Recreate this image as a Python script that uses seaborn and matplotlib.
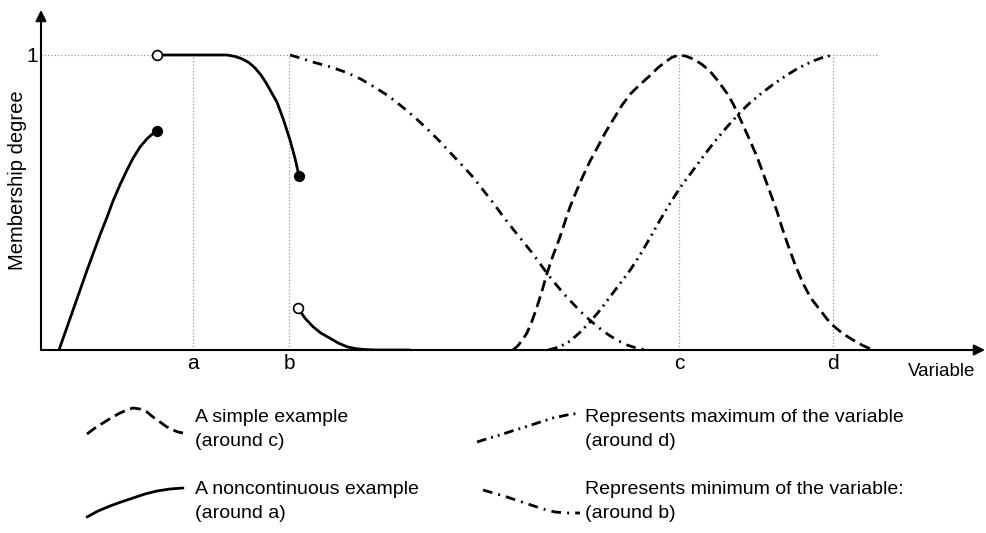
import seaborn as sns
import matplotlib.pyplot as plt

# x is measured along the "Variable" axis (arbitrary units), y = membership degree
tick_pos = [15.2, 24.8, 63.8, 79.2]
tick_labels = ['a', 'b', 'c', 'd']
top_line_end = 83.6

# simple example (around c) - dashed
c_x = [47.2, 47.7, 48.1, 48.6, 49.1, 49.6, 50.1, 50.6, 51.2, 51.9, 52.4, 52.9, 53.5,
       54.2, 54.9, 55.7, 56.4, 57.2, 58.1, 59.0, 59.9, 60.9, 61.7, 62.5, 63.1, 63.8,
       64.5, 65.3, 66.1, 66.9, 67.7, 68.6, 69.2, 69.7, 70.3, 70.9, 71.6, 72.2, 72.9,
       73.6, 74.1, 74.6, 75.4, 76.2, 77.0, 77.9, 78.6, 79.2, 80.2, 81.2, 82.2, 83.2]
c_y = [0.0, 0.015, 0.032, 0.058, 0.098, 0.146, 0.20, 0.26, 0.32, 0.383, 0.435, 0.485,
       0.535, 0.59, 0.64, 0.69, 0.735, 0.78, 0.83, 0.87, 0.90, 0.93, 0.957, 0.978,
       0.992, 1.0, 0.996, 0.985, 0.968, 0.945, 0.912, 0.87, 0.835, 0.80, 0.755, 0.71,
       0.655, 0.60, 0.535, 0.47, 0.415, 0.365, 0.29, 0.226, 0.175, 0.136, 0.105,
       0.083, 0.055, 0.034, 0.015, 0.0]

# noncontinuous example (around a) - solid, three pieces
a1_x = [1.8, 3.2, 4.6, 5.9, 6.6, 7.2, 7.9, 8.6, 9.2, 9.9, 10.6, 11.1, 11.6]
a1_y = [0.0, 0.135, 0.27, 0.39, 0.45, 0.505, 0.56, 0.61, 0.65, 0.688, 0.716, 0.731, 0.742]
a2_x = [11.55, 18.6, 19.4, 20.1, 20.8, 21.4, 22.0, 22.5, 23.0, 23.6, 24.2, 24.9, 25.4, 25.8]
a2_y = [1.0, 1.0, 0.995, 0.987, 0.974, 0.956, 0.932, 0.906, 0.876, 0.84, 0.785, 0.712,
        0.65, 0.59]
a3_x = [25.7, 26.4, 27.2, 28.0, 28.9, 29.7, 30.6, 31.4, 32.2, 33.4, 36.9]
a3_y = [0.142, 0.108, 0.079, 0.057, 0.04, 0.024, 0.011, 0.005, 0.002, 0.0, 0.0]

# maximum of the variable (around d) - dash dot dot
d_x = [50.7, 51.8, 52.9, 53.9, 54.9, 55.9, 56.9, 57.9, 58.9, 59.9, 60.9, 61.9, 62.9,
       63.9, 65.0, 66.2, 67.4, 68.6, 69.9, 70.9, 71.9, 73.2, 74.6, 75.6, 76.6, 77.4,
       78.2, 79.2]
d_y = [0.0, 0.01, 0.03, 0.06, 0.095, 0.135, 0.18, 0.225, 0.27, 0.322, 0.38, 0.44,
       0.497, 0.55, 0.60, 0.655, 0.708, 0.756, 0.805, 0.838, 0.866, 0.90, 0.932,
       0.953, 0.97, 0.982, 0.992, 1.0]

# minimum of the variable (around b) - dash dot
b_x = [24.9, 25.9, 27.2, 28.9, 30.6, 32.0, 33.4, 34.8, 36.1, 37.4, 38.6, 39.8, 40.9,
       42.0, 43.1, 44.1, 45.1, 46.1, 47.1, 48.1, 49.1, 49.9, 50.6, 51.5, 52.4, 53.4,
       54.2, 55.1, 56.0, 56.9, 57.8, 58.6, 59.6, 60.6]
b_y = [1.0, 0.99, 0.976, 0.96, 0.94, 0.918, 0.89, 0.86, 0.825, 0.788, 0.75, 0.71,
       0.67, 0.63, 0.59, 0.547, 0.504, 0.458, 0.414, 0.372, 0.33, 0.293, 0.26, 0.222,
       0.186, 0.15, 0.122, 0.095, 0.07, 0.048, 0.03, 0.017, 0.006, 0.0]

# end points: open / filled circles
open_x = [11.55, 25.7]
open_y = [1.0, 0.142]
filled_x = [11.6, 25.8]
filled_y = [0.742, 0.59]

# legend samples (drawn in pixel space below the chart)
leg_dash_x = [87, 95, 103, 111, 120, 127, 133, 140, 147, 153, 160, 167, 173, 178, 183]
leg_dash_y = [434, 428, 423, 418, 413, 410, 408, 409, 412, 417, 422, 427, 430, 432, 433]
leg_solid_x = [87, 98, 110, 121, 133, 145, 157, 170, 183]
leg_solid_y = [517, 511, 506, 502, 498, 494, 491, 489, 488]
leg_dd_x = [477, 488, 500, 512, 525, 539, 553, 567, 580]
leg_dd_y = [442, 438.5, 435, 431, 427, 422.5, 418, 415, 413]
leg_db_x = [483, 495, 507, 519, 531, 543, 555, 567, 580]
leg_db_y = [490, 493.5, 497, 501, 505, 509, 512, 513, 513]
leg_texts = [
    (195, 418, 'A simple example'), (195, 441, '(around c)'),
    (195, 490, 'A noncontinuous example'), (195, 513, '(around a)'),
    (585, 418, 'Represents maximum of the variable'), (585, 441, '(around d)'),
    (585, 490, 'Represents minimum of the variable:'), (585, 513, '(around b)'),
]

DASHED = (0, (4, 2))
DASHDOT = (0, (3.5, 2.2, 0.7, 2.2))
DASHDOTDOT = (0, (3.5, 1.8, 0.7, 1.8, 0.7, 1.8))

sns.set_theme(style='white')
plt.rcParams['font.family'] = ['Liberation Sans', 'DejaVu Sans']
plt.rcParams['text.color'] = 'black'
plt.rcParams['axes.labelcolor'] = 'black'

fig = plt.figure(figsize=(9.87, 5.33), dpi=100)
ax = fig.add_axes([41 / 987, 183 / 533, 944 / 987, 340 / 533])
ax.set_xlim(0, 94.4)
ax.set_ylim(0, 1.1525)
for s in ax.spines.values():
    s.set_visible(False)

# dotted guide lines
for p in tick_pos:
    ax.vlines(p, 0, 1, color='#9a9a9a', linestyle=':', linewidth=0.9, zorder=1)
ax.hlines(1, 0, top_line_end, color='#9a9a9a', linestyle=':', linewidth=0.9, zorder=1)

# axes arrows
arrow = dict(arrowstyle='-|>', color='black', lw=1.5, mutation_scale=16, shrinkA=0, shrinkB=0)
ax.annotate('', xy=(1, 0), xytext=(0, 0), xycoords='axes fraction', arrowprops=arrow)
ax.annotate('', xy=(0, 1), xytext=(0, 0), xycoords='axes fraction', arrowprops=arrow)

lw = 2.0
sns.lineplot(x=c_x, y=c_y, ax=ax, color='black', linewidth=lw)
ax.lines[-1].set_linestyle(DASHED)
sns.lineplot(x=b_x, y=b_y, ax=ax, color='black', linewidth=lw)
ax.lines[-1].set_linestyle(DASHDOT)
sns.lineplot(x=d_x, y=d_y, ax=ax, color='black', linewidth=lw)
ax.lines[-1].set_linestyle(DASHDOTDOT)
for xs, ys in [(a1_x, a1_y), (a2_x, a2_y), (a3_x, a3_y)]:
    sns.lineplot(x=xs, y=ys, ax=ax, color='black', linewidth=lw)

sns.scatterplot(x=open_x, y=open_y, ax=ax, s=50, color='white', edgecolor='black',
                linewidth=1.2, zorder=5)
sns.scatterplot(x=filled_x, y=filled_y, ax=ax, s=50, color='black', edgecolor='black',
                linewidth=1.0, zorder=5)

ax.set_xticks(tick_pos, tick_labels)
ax.set_yticks([1], ['1'])
ax.tick_params(axis='x', direction='in', length=7, width=1.6, labelsize=15,
               colors='black', pad=3)
ax.tick_params(axis='y', direction='in', length=7, width=1.6, labelsize=15,
               colors='black', pad=2)
ax.set_ylabel('Membership degree', fontsize=14.5)
ax.yaxis.set_label_coords(-0.0148, 0.5)
ax.set_xlabel('')
fig.text(975 / 987, 1 - 371 / 533, 'Variable', ha='right', va='center', fontsize=13.5)

# legend panel underneath
lax = fig.add_axes([0, 0, 1, 153 / 533])
lax.set_xlim(0, 987)
lax.set_ylim(533, 380)
lax.axis('off')
sns.lineplot(x=leg_dash_x, y=leg_dash_y, ax=lax, color='black', linewidth=lw, sort=False)
lax.lines[-1].set_linestyle(DASHED)
sns.lineplot(x=leg_solid_x, y=leg_solid_y, ax=lax, color='black', linewidth=lw, sort=False)
sns.lineplot(x=leg_dd_x, y=leg_dd_y, ax=lax, color='black', linewidth=lw, sort=False)
lax.lines[-1].set_linestyle(DASHDOTDOT)
sns.lineplot(x=leg_db_x, y=leg_db_y, ax=lax, color='black', linewidth=lw, sort=False)
lax.lines[-1].set_linestyle(DASHDOT)
for tx, ty, t in leg_texts:
    lax.text(tx, ty, t, ha='left', va='center', fontsize=14)

fig.savefig('out.png', dpi=100)
